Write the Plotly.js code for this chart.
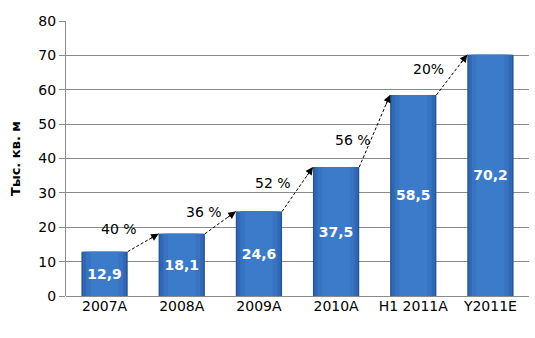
<!DOCTYPE html>
<html>
<head>
<meta charset="utf-8">
<script src="https://cdn.plot.ly/plotly-3.0.1.min.js"></script>
<style>html,body{margin:0;padding:0;background:#fff;}#chart{width:535px;height:338px;}</style>
</head>
<body>
<div id="chart"></div>
<script>
var categories = ['2007A', '2008A', '2009A', '2010A', 'H1 2011A', 'Y2011E'];
var values = [12.9, 18.1, 24.6, 37.5, 58.5, 70.2];
var valueLabels = ['12,9', '18,1', '24,6', '37,5', '58,5', '70,2'];
var growthLabels = ['40 %', '36 %', '52 %', '56 %', '20%'];
var yTitle = 'Тыс. кв. м';

var idx = categories.map(function (c, i) { return i; });
var font = 'DejaVu Sans, Verdana, sans-serif';

var W = 535, H = 338, M = { l: 66, r: 6, t: 21, b: 42 };
var yMax = 80;
var pxPerX = (W - M.l - M.r) / categories.length;
var pxPerY = (H - M.t - M.b) / yMax;

function layer(width, color) {
  return {
    type: 'bar', x: idx, y: values, width: width,
    marker: { color: color, line: { width: 0 } },
    textposition: 'none', hoverinfo: 'none', showlegend: false
  };
}

var traces = [
  layer(0.6, '#27579A'),
  layer(0.56, '#3068B3'),
  layer(0.48, '#3773C1'),
  layer(0.36, '#3C7BCA'),
  {
    type: 'bar', x: idx, y: values, width: 0.6,
    marker: { color: 'rgba(0,0,0,0)', line: { width: 0 } },
    text: valueLabels, textposition: 'inside', insidetextanchor: 'middle',
    textangle: 0, constraintext: 'none',
    textfont: { family: font, size: 14, color: '#ffffff', weight: 'bold' },
    hoverinfo: 'none', showlegend: false
  }
];

var halfW = 0.3;
var labelDx = [0.185, 0.286, 0.18, 0.216, 0.2];
var labelDy = [4.0, 3.0, 1.8, -2.7, 1.6];
var annotations = [];
for (var i = 0; i < values.length - 1; i++) {
  var x0 = i + halfW, y0 = values[i], x1 = i + 1 - halfW, y1 = values[i + 1];
  traces.push({
    type: 'scatter', mode: 'lines', x: [x0, x1], y: [y0, y1],
    line: { color: '#000', width: 1, dash: '3px,2px' },
    hoverinfo: 'none', showlegend: false
  });
  var dxp = (x1 - x0) * pxPerX, dyp = (y1 - y0) * pxPerY;
  var len = Math.sqrt(dxp * dxp + dyp * dyp), L = 12;
  annotations.push({
    x: x1, y: y1, xref: 'x', yref: 'y',
    ax: -dxp / len * L, ay: dyp / len * L,
    showarrow: true, arrowhead: 2, arrowsize: 1.5, arrowwidth: 1,
    arrowcolor: '#000', text: '', standoff: 0
  });
  annotations.push({
    x: i + labelDx[i], y: (y0 + y1) / 2 + labelDy[i],
    xref: 'x', yref: 'y', showarrow: false, text: growthLabels[i],
    font: { family: font, size: 14, color: '#000' }
  });
}

var layout = {
  width: W, height: H,
  margin: M,
  paper_bgcolor: '#fff', plot_bgcolor: '#fff',
  barmode: 'overlay',
  font: { family: font, size: 14, color: '#000' },
  xaxis: {
    tickmode: 'array', tickvals: idx, ticktext: categories,
    range: [-0.5, 5.5], showgrid: false, zeroline: false,
    showline: false, ticks: '', tickfont: { family: font, size: 14 }
  },
  yaxis: {
    range: [0, yMax], dtick: 10, showgrid: true, gridcolor: '#8a8a8a', gridwidth: 1,
    zeroline: true, zerolinecolor: '#8a8a8a', showline: true, linecolor: '#8a8a8a',
    ticks: 'outside', ticklen: 6, tickcolor: '#8a8a8a',
    tickfont: { family: font, size: 14 },
    title: { text: yTitle, font: { family: font, size: 13, weight: 'bold' }, standoff: 14 }
  },
  annotations: annotations
};

Plotly.newPlot('chart', traces, layout, { displayModeBar: false, staticPlot: true });
</script>
</body>
</html>
